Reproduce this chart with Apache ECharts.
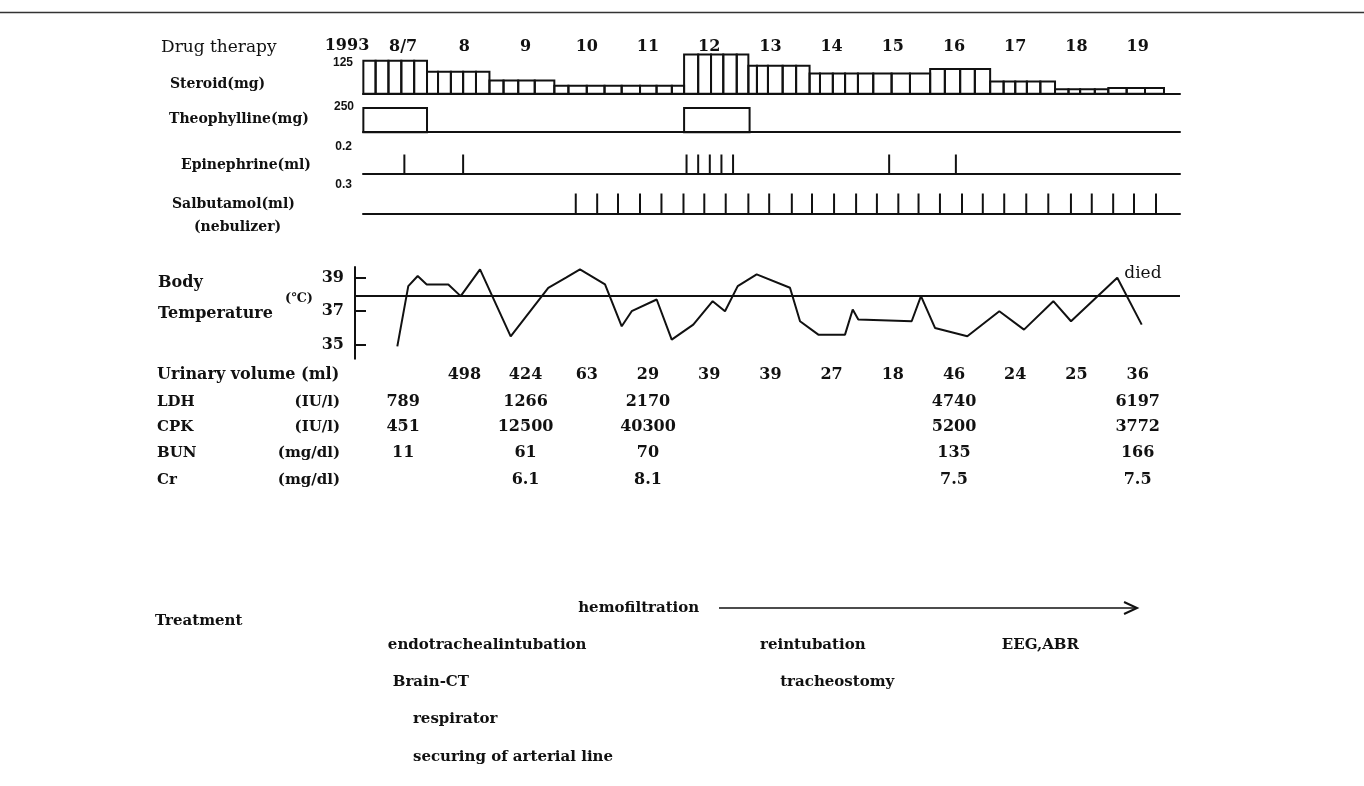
<!DOCTYPE html>
<html>
<head>
<meta charset="utf-8">
<script src="https://cdn.jsdelivr.net/npm/echarts@6/dist/echarts.min.js"></script>
<style>
html,body{margin:0;padding:0;background:#fff;}
#c{width:1364px;height:786px;}
</style>
</head>
<body>
<div id="c"></div>
<script>
// ---------------- DATA ----------------
const dayValues = [7, 8, 9, 10, 11, 12, 13, 14, 15, 16, 17, 18, 19];
const dayLabels = ['8/7', '8', '9', '10', '11', '12', '13', '14', '15', '16', '17', '18', '19'];

// steroid: each group = consecutive doses (bar edges in days) at one dose (mg)
const steroidEdges = [
  [6.35, 6.55, 6.76, 6.97, 7.18, 7.39],
  [7.39, 7.57, 7.78, 7.98, 8.19, 8.41],
  [8.41, 8.64, 8.88, 9.15, 9.47],
  [9.47, 9.70, 10.00, 10.29, 10.57, 10.87, 11.14, 11.39, 11.59],
  [11.59, 11.82, 12.03, 12.23, 12.45, 12.64],
  [12.64, 12.78, 12.96, 13.20, 13.42, 13.64],
  [13.64, 13.81, 14.02, 14.22, 14.43, 14.68, 14.98, 15.28, 15.61],
  [15.61, 15.85, 16.10, 16.34, 16.59],
  [16.59, 16.81, 17.00, 17.19, 17.41, 17.65],
  [17.65, 17.87, 18.06, 18.30, 18.52],
  [18.52, 18.82, 19.12, 19.43]
];
const steroidMg = [125, 83, 50, 30, 148, 106, 77, 94, 46, 17, 22];

const theophyllineStart = [6.35, 11.59];
const theophyllineEnd = [7.39, 12.66];
const theophyllineMg = [250, 250];

const epinephrineTimes = [7.02, 7.98, 11.63, 11.82, 12.01, 12.20, 12.39, 14.94, 16.03];
const epinephrineMl = 0.2;

const salbutamolTimes = [9.82, 10.17, 10.51, 10.87, 11.22, 11.58, 11.92, 12.27, 12.64, 12.98,
  13.35, 13.68, 14.04, 14.40, 14.74, 15.09, 15.42, 15.77, 16.13, 16.47, 16.82, 17.18,
  17.54, 17.91, 18.25, 18.60, 18.94, 19.30];
const salbutamolMl = 0.3;

const tempTimes = [6.905, 7.084, 7.238, 7.385, 7.738, 7.940, 8.256, 8.757, 9.371, 9.661,
  9.889, 10.298, 10.571, 10.734, 11.142, 11.388, 11.740, 12.057, 12.258, 12.466, 12.776,
  13.320, 13.484, 13.783, 14.219, 14.345, 14.436, 15.308, 15.460, 15.689, 16.217, 16.740,
  17.143, 17.622, 17.911, 18.667, 19.066];
const tempValues = [34.9, 38.5, 39.1, 38.6, 38.6, 37.9, 39.5, 35.5, 38.4, 39.0,
  39.5, 38.6, 36.1, 37.0, 37.7, 35.3, 36.2, 37.6, 37.0, 38.5, 39.2,
  38.4, 36.4, 35.6, 35.6, 37.1, 36.5, 36.4, 37.9, 36.0, 35.5, 37.0,
  35.9, 37.6, 36.4, 39.0, 36.2];
const tempReference = 37.9;
const tempTicks = [35, 37, 39];
const diedIndex = 35;

const urineDays = [8, 9, 10, 11, 12, 13, 14, 15, 16, 17, 18, 19];
const urineValues = [498, 424, 63, 29, 39, 39, 27, 18, 46, 24, 25, 36];
const labDays = [7, 9, 11, 16, 19];
const ldhValues = ['789', '1266', '2170', '4740', '6197'];
const cpkValues = ['451', '12500', '40300', '5200', '3772'];
const bunValues = ['11', '61', '70', '135', '166'];
const crDays = [9, 11, 16, 19];
const crValues = ['6.1', '8.1', '7.5', '7.5'];

const treatmentNames = ['hemofiltration', 'endotrachealintubation', 'reintubation', 'EEG,ABR',
  'Brain-CT', 'tracheostomy', 'respirator', 'securing of arterial line'];
const treatmentDays = [9.86, 6.75, 12.83, 16.78, 6.83, 13.16, 7.16, 7.16];
const treatmentRow = [0, 1, 1, 1, 2, 2, 3, 4];
const hemofiltrationSpan = [12.16, 18.99];

// ---------------- LAYOUT ----------------
const SERIF = '"DejaVu Serif", serif';
const SANS = '"Liberation Sans", Arial, sans-serif';
const INK = '#111111';
const XMIN = 6.3442, XMAX = 19.6917;      // plot area 363 .. 1180 px
const OVL_MIN = 0.4138, OVL_MAX = 22.6978; // full width overlay
const ROWY = { days: 47, urine: 375, ldh: 402, cpk: 427, bun: 453, cr: 480 };
const TREAT_ROWS = [608, 645, 682, 719, 757];

const steroidBars = [];
steroidEdges.forEach((edges, g) => {
  for (let i = 0; i < edges.length - 1; i++) steroidBars.push([edges[i], edges[i + 1], steroidMg[g]]);
});

function rectItem(params, api) {
  const a = api.coord([api.value(0), api.value(2)]);
  const b = api.coord([api.value(1), 0]);
  return { type: 'rect', shape: { x: a[0], y: a[1], width: b[0] - a[0], height: b[1] - a[1] },
    style: { fill: 'none', stroke: INK, lineWidth: 2 } };
}
function tickItem(params, api) {
  const a = api.coord([api.value(0), 0]);
  const b = api.coord([api.value(0), api.value(1)]);
  return { type: 'line', shape: { x1: a[0], y1: a[1], x2: b[0], y2: b[1] },
    style: { stroke: INK, lineWidth: 2 } };
}

const drugGrids = [
  { top: 51.4, height: 42.4, max: 160 },
  { top: 108, height: 24.2, max: 250 },
  { top: 154.5, height: 18.8, max: 0.2 },
  { top: 193.5, height: 19.8, max: 0.3 }
];

const grids = drugGrids.map(g => ({ left: 363, width: 817, top: g.top, height: g.height }));
grids.push({ left: 355, width: 825, top: 267, height: 91.7 });
grids.push({ left: 0, width: 1364, top: 0, height: 786 });

const xAxes = drugGrids.map((g, i) => ({
  type: 'value', gridIndex: i, min: XMIN, max: XMAX,
  axisLine: { show: true, lineStyle: { color: INK, width: 2 } },
  axisTick: { show: false }, axisLabel: { show: false }, splitLine: { show: false }
}));
xAxes.push({ type: 'value', gridIndex: 4, min: 6.2135, max: XMAX, show: false });
xAxes.push({ type: 'value', gridIndex: 5, min: OVL_MIN, max: OVL_MAX, show: false });

const yAxes = drugGrids.map((g, i) => ({ type: 'value', gridIndex: i, min: 0, max: g.max, show: false }));
yAxes.push({
  type: 'value', gridIndex: 4, min: 34.164, max: 39.64,
  axisLine: { show: true, lineStyle: { color: INK, width: 2 } },
  axisTick: { show: true, inside: true, length: 11, customValues: tempTicks, lineStyle: { color: INK, width: 2 } },
  axisLabel: { show: true, customValues: tempTicks, margin: 11, color: INK, fontSize: 16, fontWeight: 'bold', fontFamily: SERIF },
  splitLine: { show: false }
});
yAxes.push({ type: 'value', gridIndex: 5, min: 0, max: 786, inverse: true, show: false });

function textRow(days, values, y) {
  return {
    type: 'scatter', xAxisIndex: 5, yAxisIndex: 5, symbolSize: 0, silent: true,
    itemStyle: { opacity: 1, color: INK },
    data: days.map((d, i) => [d, y, values[i]]),
    label: { show: true, position: 'inside', formatter: p => String(p.value[2]),
      color: INK, opacity: 1, fontSize: 16, fontWeight: 'bold', fontFamily: SERIF }
  };
}

const series = [
  { type: 'custom', xAxisIndex: 0, yAxisIndex: 0, data: steroidBars, renderItem: rectItem, silent: true },
  { type: 'custom', xAxisIndex: 1, yAxisIndex: 1,
    data: theophyllineStart.map((s, i) => [s, theophyllineEnd[i], theophyllineMg[i]]), renderItem: rectItem, silent: true },
  { type: 'custom', xAxisIndex: 2, yAxisIndex: 2,
    data: epinephrineTimes.map(t => [t, epinephrineMl]), renderItem: tickItem, silent: true },
  { type: 'custom', xAxisIndex: 3, yAxisIndex: 3,
    data: salbutamolTimes.map(t => [t, salbutamolMl]), renderItem: tickItem, silent: true },
  {
    type: 'line', xAxisIndex: 4, yAxisIndex: 4, symbol: 'none', silent: true,
    lineStyle: { color: INK, width: 2 },
    data: tempTimes.map((t, i) => [t, tempValues[i]]),
    markLine: { silent: true, symbol: 'none', label: { show: false },
      lineStyle: { color: INK, width: 2, type: 'solid' }, data: [{ yAxis: tempReference }] }
  },
  {
    type: 'scatter', xAxisIndex: 4, yAxisIndex: 4, symbolSize: 0, silent: true,
    itemStyle: { opacity: 1, color: INK },
    data: [[tempTimes[diedIndex], tempValues[diedIndex]]],
    label: { show: true, formatter: 'died', position: 'right', distance: 7, offset: [0, -4],
      color: INK, opacity: 1, fontSize: 17, fontFamily: SERIF }
  },
  textRow(dayValues, dayLabels, ROWY.days),
  textRow(urineDays, urineValues, ROWY.urine),
  textRow(labDays, ldhValues, ROWY.ldh),
  textRow(labDays, cpkValues, ROWY.cpk),
  textRow(labDays, bunValues, ROWY.bun),
  textRow(crDays, crValues, ROWY.cr),
  {
    type: 'scatter', xAxisIndex: 5, yAxisIndex: 5, symbolSize: 0, silent: true,
    itemStyle: { opacity: 1, color: INK },
    data: treatmentNames.map((n, i) => [treatmentDays[i], TREAT_ROWS[treatmentRow[i]], n]),
    label: { show: true, position: 'right', distance: 0, formatter: p => p.value[2],
      color: INK, opacity: 1, fontSize: 15, fontWeight: 'bold', fontFamily: SERIF }
  },
  {
    type: 'custom', xAxisIndex: 5, yAxisIndex: 5, silent: true,
    data: [[hemofiltrationSpan[0], hemofiltrationSpan[1], TREAT_ROWS[0]]],
    renderItem: (params, api) => {
      const a = api.coord([api.value(0), api.value(2)]);
      const b = api.coord([api.value(1), api.value(2)]);
      return { type: 'group', children: [
        { type: 'line', shape: { x1: a[0], y1: a[1], x2: b[0], y2: b[1] }, style: { stroke: INK, lineWidth: 1.6 } },
        { type: 'polyline', shape: { points: [[b[0] - 13, b[1] - 6], [b[0], b[1]], [b[0] - 13, b[1] + 6]] },
          style: { stroke: INK, lineWidth: 2, fill: 'none' } }
      ] };
    }
  }
];

function txt(x, y, text, size, weight, align, family) {
  return { type: 'text', x: x, y: y, silent: true,
    style: { text: text, fill: INK, fontSize: size, fontWeight: weight || 'normal', fontFamily: family || SERIF,
      align: align || 'left', verticalAlign: 'middle', textAlign: align || 'left', textVerticalAlign: 'middle' } };
}

const graphics = [
  { type: 'line', silent: true, shape: { x1: 0, y1: 12.5, x2: 1364, y2: 12.5 }, style: { stroke: '#333', lineWidth: 1.5 } },
  txt(161, 48, 'Drug therapy', 17, 'normal'),
  txt(347, 46, '1993', 16, 'bold', 'center'),
  txt(353, 63, '125', 12, 'bold', 'right', SANS),
  txt(170, 84, 'Steroid(mg)', 14, 'bold'),
  txt(354, 107, '250', 12, 'bold', 'right', SANS),
  txt(169, 119, 'Theophylline(mg)', 14, 'bold'),
  txt(352, 147, '0.2', 12, 'bold', 'right', SANS),
  txt(181, 165, 'Epinephrine(ml)', 14, 'bold'),
  txt(352, 185, '0.3', 12, 'bold', 'right', SANS),
  txt(172, 204, 'Salbutamol(ml)', 14, 'bold'),
  txt(194, 227, '(nebulizer)', 14, 'bold'),
  txt(158, 283, 'Body', 16, 'bold'),
  txt(158, 314, 'Temperature', 16, 'bold'),
  txt(285, 299, '(℃)', 13, 'bold'),
  txt(157, 375, 'Urinary volume (ml)', 16, 'bold'),
  txt(157, 402, 'LDH', 15, 'bold'), txt(340, 402, '(IU/l)', 15, 'bold', 'right'),
  txt(157, 427, 'CPK', 15, 'bold'), txt(340, 427, '(IU/l)', 15, 'bold', 'right'),
  txt(157, 453, 'BUN', 15, 'bold'), txt(340, 453, '(mg/dl)', 15, 'bold', 'right'),
  txt(157, 480, 'Cr', 15, 'bold'), txt(340, 480, '(mg/dl)', 15, 'bold', 'right'),
  txt(155, 621, 'Treatment', 15, 'bold')
];

const chart = echarts.init(document.getElementById('c'));
chart.setOption({
  animation: false,
  backgroundColor: '#fff',
  grid: grids,
  xAxis: xAxes,
  yAxis: yAxes,
  series: series,
  graphic: graphics
});
</script>
</body>
</html>
